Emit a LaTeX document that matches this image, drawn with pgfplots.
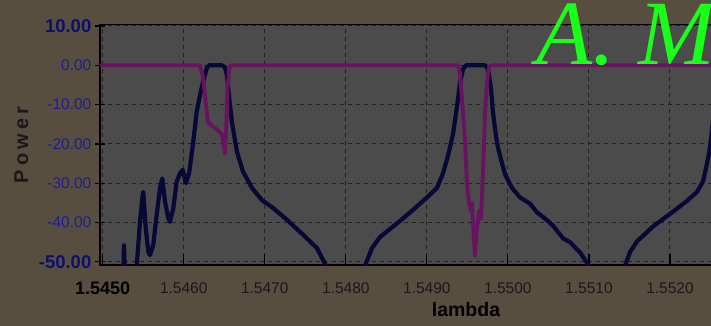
\documentclass[border=0pt]{standalone}
\usepackage{fontspec}
\setmainfont{Liberation Sans}
\newfontfamily\serifit{Liberation Serif}
\usepackage{pgfplots}
\pgfplotsset{compat=1.18}
\definecolor{bgbrown}{RGB}{88,78,64}
\definecolor{plotgray}{RGB}{75,75,75}
\definecolor{gridc}{RGB}{32,32,32}
\definecolor{navyc}{RGB}{8,8,55}
\definecolor{purpc}{RGB}{105,18,95}
\definecolor{ylab}{RGB}{30,30,145}
\definecolor{ylabdark}{RGB}{15,15,110}
\definecolor{xlab}{RGB}{25,25,25}
\definecolor{greenc}{RGB}{25,255,25}
\begin{document}
\begin{tikzpicture}[x=1pt,y=1pt]
\useasboundingbox (0,0) rectangle (711,326);
\fill[bgbrown] (0,0) rectangle (711,326);
\begin{axis}[
  at={(100pt,61pt)}, anchor=south west,
  scale only axis, width=651pt, height=240.7pt,
  xmin=1.544967, xmax=1.553, ymin=-50.8, ymax=10.43,
  axis background/.style={fill=plotgray},
  axis line style={black, line width=1.4pt},
  grid=major,
  grid style={gridc, line width=1pt, dash pattern=on 4pt off 4pt},
  xtick={1.545,1.546,1.547,1.548,1.549,1.550,1.551,1.552},
  xticklabels={{\fontsize{18}{18}\selectfont\bfseries\color{black}1.5450},1.5460,1.5470,1.5480,1.5490,1.5500,1.5510,1.5520},
  ytick={-50,-40,-30,-20,-10,0,10},
  yticklabels={{\fontsize{18.5}{19}\selectfont\bfseries\color{ylabdark}-50.00},-40.00,-30.00,-20.00,-10.00,0.00,{\fontsize{18.5}{19}\selectfont\bfseries\color{ylabdark}10.00}},
  tick pos=left,
  xtick align=inside, ytick align=center,
  major tick length=11pt,
  tick style={black, line width=1.2pt},
  xticklabel style={font=\fontsize{15.5}{16}\selectfont, text=xlab, anchor=north, inner sep=0pt, yshift=-17pt},
  yticklabel style={font=\fontsize{15.5}{16}\selectfont, text=ylab, anchor=east, inner sep=0pt, xshift=-3pt},
  xlabel={lambda},
  xlabel style={font=\fontsize{19.5}{20}\selectfont\bfseries, text=black, at={(axis description cs:0.5622,-0.2148)}, anchor=base, inner sep=0pt},
  ylabel={P\kern4pt o\kern4pt w\kern4pt e\kern4pt r},
  ylabel style={font=\fontsize{20}{20}\selectfont\bfseries, text=black!90, at={(axis description cs:-0.1106,0.4985)}, anchor=base, inner sep=0pt},
  every axis plot/.append style={line join=round, line cap=round},
]
% blue curve, segments
\addplot[navyc, line width=4.2pt] coordinates {(1.545257,-51) (1.545263,-45.8) (1.545271,-51)};
\addplot[navyc, line width=4.2pt] coordinates {
(1.545420,-51) (1.545460,-39.9) (1.545494,-33) (1.545501,-32.2) (1.545531,-41.4) (1.545563,-47.4)
(1.545584,-48.3) (1.545624,-45.7) (1.545666,-38.1) (1.545707,-31.3) (1.545735,-28.8) (1.545769,-34.7)
(1.545810,-38.9) (1.545830,-39.8) (1.545871,-36.4) (1.545913,-29.6) (1.545954,-27.5) (1.545987,-26.6)
(1.546028,-30) (1.546069,-27.1) (1.546118,-19.4) (1.546160,-11.8) (1.546201,-7.6) (1.546250,-3.3)
(1.546283,-0.8) (1.546312,0) (1.546472,0) (1.546509,-0.5) (1.546534,-2.5) (1.546559,-8)
(1.546596,-14.5) (1.546657,-22) (1.546731,-27) (1.546842,-31.2) (1.546966,-34.3) (1.547102,-36.3)
(1.547274,-39.3) (1.547472,-43.1) (1.547644,-46.5) (1.547756,-51)};
\addplot[navyc, line width=4.2pt] coordinates {
(1.548237,-51) (1.548323,-46.5) (1.548422,-43.7) (1.548632,-40.2) (1.548829,-36.8) (1.549002,-33.6)
(1.549125,-31.2) (1.549199,-27.5) (1.549261,-23) (1.549323,-17.5) (1.549372,-10.5) (1.549409,-4.5)
(1.549446,-1) (1.549483,0) (1.549718,0) (1.549755,-1) (1.549792,-6) (1.549816,-12)
(1.549853,-18) (1.549878,-21) (1.549964,-27.7) (1.550051,-31.2) (1.550149,-33.6) (1.550273,-35.2)
(1.550359,-37.4) (1.550483,-39.4) (1.550557,-40.8) (1.550680,-44) (1.550767,-45) (1.550890,-47.6)
(1.551001,-51)};
\addplot[navyc, line width=4.2pt] coordinates {
(1.551445,-51) (1.551507,-47.5) (1.551593,-44.8) (1.551791,-41) (1.552001,-37.8) (1.552210,-34.5)
(1.552334,-32.2) (1.552408,-29.5) (1.552457,-25) (1.552494,-21) (1.552543,-12) (1.552593,-4)};
% purple curve
\addplot[purpc, line width=3.8pt] coordinates {
(1.544960,0) (1.546201,0) (1.546238,-3) (1.546275,-10) (1.546299,-14.5) (1.546386,-16)
(1.546472,-17.5) (1.546491,-20) (1.546509,-22.5) (1.546528,-14) (1.546540,-6) (1.546559,-1)
(1.546583,0) (1.549384,0) (1.549409,-2) (1.549446,-12) (1.549471,-19) (1.549495,-30)
(1.549520,-35) (1.549545,-37) (1.549557,-35) (1.549569,-40) (1.549594,-48.5) (1.549619,-41)
(1.549644,-37) (1.549668,-39) (1.549693,-27) (1.549718,-12) (1.549743,-4) (1.549767,-0.5)
(1.549792,0) (1.553000,0)};
\end{axis}
\node[anchor=base west, inner sep=0pt, text=greenc, font=\serifit\itshape\fontsize{92}{92}\selectfont] at (536,261) {A. M};
\end{tikzpicture}
\end{document}
